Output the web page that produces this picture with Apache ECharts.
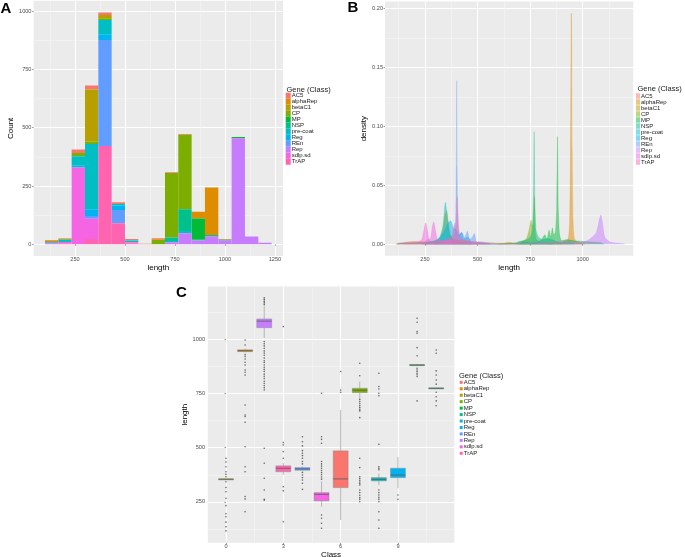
<!DOCTYPE html>
<html><head><meta charset="utf-8">
<script src="https://cdn.jsdelivr.net/npm/echarts@6/dist/echarts.min.js"></script>
<style>html,body{margin:0;padding:0;background:#fff}#c{width:685px;height:557px}</style>
</head><body><div id="c"></div>
<script>
// ---------- data ----------
const genes = ['AC5','alphaRep','betaC1','CP','MP','NSP','pre-coat','Reg','REn','Rep','sdlp.sd','TrAP'];
const colors = ['#F8766D','#DE8C00','#B79F00','#7CAE00','#00BA38','#00C08B','#00BFC4','#00B4F0','#619CFF','#C77CFF','#F564E3','#FF64B0'];

// Panel A: histogram bin edges and counts per gene (same order as genes)
const binEdges = [100,166.7,233.3,300,366.7,433.3,500,566.7,633.3,700,766.7,833.3,900,966.7,1033.3,1100,1166.7,1233.3];
const histCounts = [
  [3,2,15,17,11,7,7,2,4,3,3,0,0,2,0,0,0],        // AC5
  [0,0,0,0,0,0,0,0,4,0,0,29,203,2,0,0,0],        // alphaRep
  [6,4,0,223,14,0,0,0,0,0,0,0,0,0,0,0,0],        // betaC1
  [0,0,14,11,8,0,0,0,18,277,320,0,0,0,0,0,0],    // CP
  [0,0,0,0,0,0,0,0,0,0,0,92,0,3,5,0,0],          // MP
  [0,0,0,0,0,0,0,0,0,15,93,3,7,0,0,0,0],         // NSP
  [5,10,40,280,61,7,7,0,0,5,10,0,0,0,0,0,0],     // pre-coat
  [0,0,8,29,24,19,0,0,0,0,0,0,0,0,0,0,0],        // Reg
  [0,0,0,12,455,57,0,0,0,0,0,0,0,0,0,0,0],       // REn
  [0,0,0,0,0,0,0,0,0,9,47,16,33,16,455,33,7],    // Rep
  [4,8,329,86,0,0,5,0,0,0,0,0,0,0,0,0,0],        // sdlp.sd
  [0,2,0,23,421,90,4,0,0,0,0,0,0,0,0,0,0]        // TrAP
];

// Panel B: density curves [length, density] per gene
const densAC5 = [[115,0],[150,0.0015],[200,0.0025],[250,0.002],[300,0.0028],[350,0.0035],[400,0.0035],[450,0.0028],[500,0.002],[550,0.0015],[600,0.001],[650,0.0008],[700,0.0006],[750,0.0012],[800,0.0008],[850,0.0005],[900,0.0002],[1000,0]];
const densAlphaRep = [[600,0],[620,0.0006],[650,0.0018],[680,0.0006],[700,0.0004],[830,0.001],[860,0.0015],[900,0.002],[930,0.004],[938,0.02],[942,0.08],[946,0.196],[950,0.08],[954,0.02],[960,0.005],[975,0.002],[1000,0.001],[1010,0]];
const densBetaC1 = [[110,0],[120,0.0008],[160,0.0012],[200,0.0015],[240,0.0015],[280,0.002],[320,0.004],[335,0.012],[345,0.024],[353,0.0285],[360,0.02],[370,0.008],[390,0.004],[420,0.003],[450,0.002],[470,0]];
const densCP = [[240,0],[260,0.0008],[300,0.001],[350,0.001],[400,0.0008],[450,0.0005],[600,0.0003],[660,0.001],[700,0.002],[730,0.004],[745,0.012],[754,0.0205],[760,0.015],[766,0.02],[770,0.04],[773,0.015],[780,0.004],[800,0.002],[830,0.0015],[880,0.001],[900,0]];
const densMP = [[700,0],[715,0.002],[760,0.001],[800,0.003],[820,0.008],[830,0.004],[840,0.012],[848,0.006],[856,0.014],[862,0.008],[870,0.01],[876,0.03],[880,0.0912],[884,0.03],[890,0.008],[900,0.003],[925,0.004],[960,0.003],[1030,0.002],[1080,0.0015],[1100,0]];
const densNSP = [[680,0],[693,0.002],[715,0.003],[735,0.004],[750,0.006],[760,0.012],[766,0.04],[769,0.0954],[772,0.04],[778,0.012],[790,0.006],[810,0.004],[835,0.005],[853,0.004],[900,0.001],[935,0.002],[950,0.001],[960,0]];
const densPreCoat = [[120,0],[130,0.0008],[170,0.001],[210,0.0012],[250,0.0015],[300,0.003],[320,0.006],[335,0.015],[343,0.03],[347,0.0356],[352,0.03],[360,0.018],[370,0.008],[385,0.003],[420,0.0015],[515,0.0008],[600,0.0003],[740,0.001],[780,0.0015],[842,0.0005],[860,0]];
const densReg = [[250,0],[262,0.001],[282,0.002],[310,0.004],[330,0.008],[345,0.012],[360,0.018],[372,0.02],[385,0.014],[398,0.012],[410,0.008],[425,0.01],[440,0.005],[456,0.006],[470,0]];
const densREn = [[300,0],[310,0.001],[340,0.002],[360,0.003],[380,0.005],[392,0.01],[397,0.03],[399,0.066],[401,0.1387],[403,0.066],[406,0.02],[412,0.008],[425,0.01],[432,0.004],[440,0.006],[452,0.011],[462,0.004],[475,0.006],[485,0.009],[495,0.002],[510,0.002],[550,0.001],[560,0]];
const densRep = [[240,0],[255,0.003],[265,0.0045],[280,0.002],[300,0.001],[355,0.001],[430,0.0008],[500,0.0005],[600,0.0002],[750,0.0008],[800,0.002],[850,0.002],[900,0.0025],[950,0.002],[990,0.002],[1020,0.003],[1045,0.006],[1065,0.01],[1078,0.02],[1086,0.0248],[1094,0.018],[1105,0.006],[1130,0.002],[1160,0.001],[1190,0.0005],[1200,0]];
const densSdlp = [[120,0],[130,0.001],[150,0.001],[180,0.001],[200,0.001],[220,0.002],[235,0.004],[245,0.012],[253,0.0183],[262,0.012],[270,0.004],[278,0.006],[285,0.015],[292,0.019],[300,0.012],[310,0.004],[330,0.003],[360,0.004],[400,0.003],[440,0.002],[520,0.001],[550,0.0008],[560,0]];
const densTrAP = [[150,0],[159,0.0005],[300,0.001],[320,0.002],[360,0.004],[380,0.008],[388,0.015],[393,0.018],[398,0.012],[401,0.03],[403,0.0403],[406,0.03],[412,0.012],[420,0.005],[450,0.003],[480,0.002],[520,0.001],[540,0]];
const densities = [densAC5,densAlphaRep,densBetaC1,densCP,densMP,densNSP,densPreCoat,densReg,densREn,densRep,densSdlp,densTrAP];

// Panel C: class number, box stats [lower whisker, Q1, median, Q3, upper whisker], outliers
const classOf = [6,1,0,7,10,11,8,9,4,2,5,3];
const boxStats = [
  [167,316,356,485,673],
  [938,942,946,950,955],
  [353,354,355,356,357],
  [727,753,764,773,804],
  [876,878,880,882,885],
  [770,771,773,775,777],
  [328,347,354,362,380],
  [313,362,374,405,456],
  [392,396,402,408,414],
  [1005,1052,1082,1092,1150],
  [228,255,285,293,345],
  [375,389,405,416,430]
];
const outliers = [
  [850,765,755],
  [995,972,928,919,908,893,880,857,847,834,696,650,643,617,504,412,389,275,264,205],
  [451,434,412,389,377,366,343,316,297,267,233,196,182,157,136,117],
  [888,831,722,712,703,694,685,676,669,638,451,408,366,358,350,342,335,328,305,293,281,270,262,251],
  [1095,1077,1034,1026,960,923,865,857,850,842,835,827,715],
  [949,934,853,834,811,792,755,734,715,693],
  [842,781,770,750,739,515,412,405,398,305,293,282,271,262,251,205,167,129],
  [282,262],
  [550,527,508,486,474,463,451,436,425,386,374,362,351,336,308],
  [1189,1181,1173,1166,1158,988,978,968,957,945,935,925,912,900,892,880,870,860,850,838,828,818,805,795,785,775,765,497,428,359,305,262,258],
  [750,550,538,520,436,425,415,405,395,385,375,365,355,190,175,152,129],
  [1057,523,512,481,451,320,301,159]
];

// tick labels
const ticksAx = [250,500,750,1000,1250], minorAx = [125,375,625,875,1125];
const ticksAy = [0,250,500,750,1000], minorAy = [125,375,625,875];
const ticksBx = [250,500,750,1000], minorBx = [125,375,625,875,1125];
const ticksBy = [0,0.05,0.10,0.15,0.20], minorBy = [0.025,0.075,0.125,0.175];
const ticksCx = [0,3,6,9], minorCx = [1.5,4.5,7.5,10.5];
const ticksCy = [250,500,750,1000], minorCy = [125,375,625,875,1125];

// ---------- helpers ----------
const FONT = 'Liberation Sans';
function majorAxis(dim, gi, min, max, ticks, name, nameGap, margin, fmt) {
  return {
    type:'value', gridIndex:gi, min:min, max:max,
    position: dim==='x' ? 'bottom' : 'left',
    axisLine:{show:false},
    axisTick:{show:true, length:1.5, customValues:ticks, lineStyle:{color:'#333', width:0.5}},
    axisLabel:{customValues:ticks, fontSize:5.6, color:'#4D4D4D', fontFamily:FONT, margin:margin,
      formatter: fmt || (v => String(v))},
    splitLine:{show:true, lineStyle:{color:'#FFFFFF', width:1}},
    name:name, nameLocation:'middle', nameGap:nameGap,
    nameTextStyle:{fontSize:8, color:'#000', fontFamily:FONT}
  };
}
function minorAxis(dim, gi, min, max, ticks) {
  return {
    type:'value', gridIndex:gi, min:min, max:max,
    position: dim==='x' ? 'top' : 'right',
    axisLine:{show:false},
    axisTick:{show:false, customValues:ticks},
    axisLabel:{show:false, customValues:ticks},
    splitLine:{show:true, lineStyle:{color:'#F7F7F7', width:0.5}}
  };
}

// ---------- series ----------
const series = [];
// A: stacked histogram (TrAP at bottom, AC5 on top)
const base = binEdges.slice(1).map(() => 0);
const stackOrder = genes.map((g,i)=>i).reverse();
const histData = genes.map(() => []);
stackOrder.forEach(gi => {
  histCounts[gi].forEach((c, b) => {
    if (c > 0) {
      histData[gi].push([binEdges[b], binEdges[b+1], base[b], base[b] + c]);
      base[b] += c;
    }
  });
});
function renderBin(params, api) {
  const p0 = api.coord([api.value(0), api.value(3)]);
  const p1 = api.coord([api.value(1), api.value(2)]);
  return {type:'rect', shape:{x:p0[0], y:p0[1], width:p1[0]-p0[0], height:p1[1]-p0[1]},
    style:{fill:api.visual('color')}};
}
genes.forEach((g, i) => {
  series.push({
    type:'custom', name:g, xAxisIndex:0, yAxisIndex:0,
    renderItem:renderBin, encode:{x:[0,1], y:[2,3]},
    itemStyle:{color:colors[i]}, data:histData[i], clip:true, silent:true
  });
});
// B: overlapping densities
genes.forEach((g, i) => {
  series.push({
    type:'line', name:g, xAxisIndex:2, yAxisIndex:2,
    data:densities[i], showSymbol:false, symbol:'none', smooth:0.2,
    lineStyle:{width:0.4, color:colors[i], opacity:0.6},
    itemStyle:{color:colors[i]},
    areaStyle:{color:colors[i], opacity:0.5},
    silent:true, clip:true
  });
});
// C: boxplots + outliers
const BOX_HALF = 0.39;
function renderBox(params, api) {
  const x = api.value(0);
  const lo = api.value(1), q1 = api.value(2), md = api.value(3), q3 = api.value(4), hi = api.value(5);
  const pl = api.coord([x - BOX_HALF, q3]);
  const pr = api.coord([x + BOX_HALF, q1]);
  const pm = api.coord([x, md]);
  const plo = api.coord([x, lo]), phi = api.coord([x, hi]);
  const h = Math.max(pr[1] - pl[1], 1);
  return {type:'group', children:[
    {type:'line', shape:{x1:pm[0], y1:phi[1], x2:pm[0], y2:pl[1]}, style:{stroke:'#A6A6A6', lineWidth:0.8}},
    {type:'line', shape:{x1:pm[0], y1:pr[1], x2:pm[0], y2:plo[1]}, style:{stroke:'#A6A6A6', lineWidth:0.8}},
    {type:'rect', shape:{x:pl[0], y:pl[1], width:pr[0]-pl[0], height:h},
      style:{fill:api.visual('color'), stroke:'#8C8C8C', lineWidth:0.5}},
    {type:'line', shape:{x1:pl[0], y1:pm[1], x2:pr[0], y2:pm[1]}, style:{stroke:'#5A5A5A', lineWidth:0.8}}
  ]};
}
const outlierData = [];
genes.forEach((g, i) => outliers[i].forEach(v => outlierData.push([classOf[i], v])));
series.push({
  type:'scatter', name:'outliers', xAxisIndex:4, yAxisIndex:4,
  data:outlierData, symbolSize:1.6, itemStyle:{color:'rgba(25,25,25,0.8)'}, silent:true, z:2
});
series.push({
  type:'custom', name:'boxes', xAxisIndex:4, yAxisIndex:4,
  renderItem:renderBox, encode:{x:0, y:[1,2,3,4,5]},
  data: genes.map((g, i) => ({value:[classOf[i]].concat(boxStats[i]), itemStyle:{color:colors[i]}})),
  silent:true, z:3
});

// ---------- legends ----------
function legend(left, top, w, h, rowH, alpha) {
  return {
    orient:'vertical', left:left, top:top, padding:0, itemGap:0,
    itemWidth:w, itemHeight:h, icon:'rect', selectedMode:false,
    textStyle:{fontSize:6, lineHeight:rowH, color:'#1A1A1A', fontFamily:FONT, padding:[0,0,0,-4]},
    data: genes.map((g, i) => ({name:g, itemStyle:{color:colors[i], opacity:alpha, borderWidth:0}}))
  };
}

const titleStyle = {fontSize:15, fontWeight:'bold', color:'#000', fontFamily:FONT};
const legTitle = {fontSize:7.5, fontWeight:'normal', color:'#1A1A1A', fontFamily:FONT};

const option = {
  animation:false,
  backgroundColor:'#FFFFFF',
  title:[
    {text:'A', left:0.5, top:1.5, padding:0, textStyle:titleStyle},
    {text:'B', left:347.5, top:0, padding:0, textStyle:titleStyle},
    {text:'C', left:176, top:285, padding:0, textStyle:titleStyle},
    {text:'Gene (Class)', left:286.5, top:86, padding:0, textStyle:legTitle},
    {text:'Gene (Class)', left:637.5, top:85.3, padding:0, textStyle:legTitle},
    {text:'Gene (Class)', left:459, top:372, padding:0, textStyle:legTitle}
  ],
  grid:[
    {left:33.66, top:0.8, width:249.3, height:255.1, show:true, backgroundColor:'#EBEBEB', borderWidth:0, outerBoundsMode:'none'},
    {left:385.0, top:1.46, width:248.2, height:254.4, show:true, backgroundColor:'#EBEBEB', borderWidth:0, outerBoundsMode:'none'},
    {left:207.85, top:286.6, width:246.5, height:256.2, show:true, backgroundColor:'#EBEBEB', borderWidth:0, outerBoundsMode:'none'}
  ],
  xAxis:[
    majorAxis('x', 0, 43.3, 1290, ticksAx, 'length', 6, 1),
    minorAxis('x', 0, 43.3, 1290, minorAx),
    majorAxis('x', 1, 60, 1240, ticksBx, 'length', 6, 1),
    minorAxis('x', 1, 60, 1240, minorBx),
    majorAxis('x', 2, -0.95, 11.95, ticksCx, 'Class', 5, 1),
    minorAxis('x', 2, -0.95, 11.95, minorCx)
  ],
  yAxis:[
    majorAxis('y', 0, -49.7, 1043.7, ticksAy, 'Count', 14.5, 2.2),
    minorAxis('y', 0, -49.7, 1043.7, minorAy),
    majorAxis('y', 1, -0.0098, 0.2058, ticksBy, 'density', 13, 2, v => v.toFixed(2)),
    minorAxis('y', 1, -0.0098, 0.2058, minorBy),
    majorAxis('y', 2, 62, 1241, ticksCy, 'length', 14.8, 2.8),
    minorAxis('y', 2, 62, 1241, minorCy)
  ],
  legend:[
    legend(285.7, 92.7, 5, 6, 5.94, 1),
    legend(636, 93, 4, 5.5, 5.5, 0.5),
    legend(459.7, 379.1, 3, 3, 6.45, 1)
  ],
  series:series
};
const chart = echarts.init(document.getElementById('c'));
chart.setOption(option);
</script>
</body></html>
